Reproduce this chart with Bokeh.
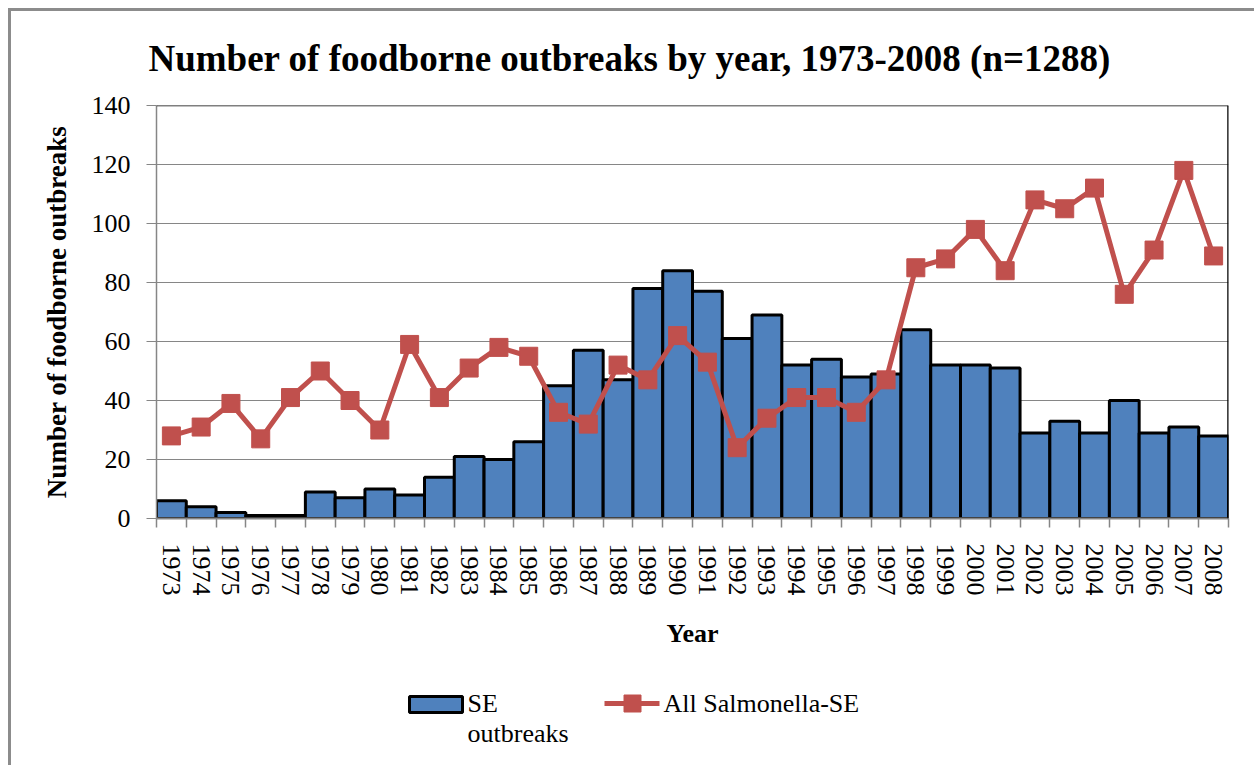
from bokeh.plotting import figure
from bokeh.layouts import column
from bokeh.models import Range1d, FixedTicker, Span, ColumnDataSource, Title
from bokeh.core.properties import value
from bokeh.embed import file_html
from bokeh.resources import INLINE

# ---- data ----
years = [1973, 1974, 1975, 1976, 1977, 1978, 1979, 1980, 1981, 1982, 1983, 1984,
         1985, 1986, 1987, 1988, 1989, 1990, 1991, 1992, 1993, 1994, 1995, 1996,
         1997, 1998, 1999, 2000, 2001, 2002, 2003, 2004, 2005, 2006, 2007, 2008]
se_outbreaks = [6, 4, 2, 1, 1, 9, 7, 10, 8, 14, 21, 20,
                26, 45, 57, 47, 78, 84, 77, 61, 69, 52, 54, 48,
                49, 64, 52, 52, 51, 29, 33, 29, 40, 29, 31, 28]
all_salmonella_minus_se = [28, 31, 39, 27, 41, 50, 40, 30, 59, 41, 51, 58,
                           55, 36, 32, 52, 47, 62, 53, 24, 34, 41, 41, 36,
                           47, 85, 88, 98, 84, 108, 105, 112, 76, 91, 118, 89]
y_ticks = [0, 20, 40, 60, 80, 100, 120, 140]
title_text = "Number of foodborne outbreaks by year, 1973-2008 (n=1288)"
legend_labels = ["SE", "outbreaks", "All Salmonella-SE"]

FONT = "Liberation Serif"
BLUE = "#4F81BD"
RED = "#C0504D"
GREY = "#868686"
W = 1243

# ---------------- main chart ----------------
src = ColumnDataSource(dict(year=years, se=se_outbreaks, sal=all_salmonella_minus_se))

p = figure(width=W, height=669, output_backend="svg", toolbar_location=None,
           x_range=Range1d(years[0] - 0.5, years[-1] + 0.5),
           y_range=Range1d(y_ticks[0], y_ticks[-1]),
           min_border_left=145, min_border_right=26, min_border_top=94, min_border_bottom=162)
p.outline_line_color = None
p.title = Title(text=title_text, align="left", offset=-8, standoff=50, vertical_align="top",
                text_font=FONT, text_font_style="bold", text_font_size="37px",
                text_color="black")

bars = p.vbar(x="year", top="se", bottom=0, width=1.0, source=src,
              fill_color=BLUE, line_color="black", line_width=3)
line_r = p.line(x="year", y="sal", source=src, line_color=RED, line_width=5)
pts = p.scatter(x="year", y="sal", source=src, marker="square", size=18,
                fill_color=RED, line_color=RED)

p.add_layout(Span(location=y_ticks[-1], dimension="width", line_color="black", line_width=1.5))
p.add_layout(Span(location=years[-1] + 0.5, dimension="height", line_color="black", line_width=2.5))

p.xgrid.visible = False
p.ygrid.ticker = FixedTicker(ticks=y_ticks)
p.ygrid.grid_line_color = GREY
p.ygrid.grid_line_width = 1

xa = p.xaxis[0]
xa.ticker = FixedTicker(ticks=years, minor_ticks=[y - 0.5 for y in years] + [years[-1] + 0.5])
xa.major_label_overrides = {y: str(y) for y in years}
xa.major_label_orientation = "vertical"
xa.major_tick_out = 0
xa.major_tick_in = 0
xa.minor_tick_out = 9
xa.minor_tick_in = 0
xa.minor_tick_line_color = GREY
xa.minor_tick_line_width = 1.5
xa.axis_line_color = GREY
xa.axis_line_width = 2
xa.major_label_standoff = 16
xa.major_label_text_font = FONT
xa.major_label_text_font_size = "26px"
xa.major_label_text_color = "black"
xa.axis_label = "Year"
xa.axis_label_text_font = FONT
xa.axis_label_text_font_style = "bold"
xa.axis_label_text_font_size = "26px"
xa.axis_label_text_color = "black"
xa.axis_label_standoff = 20

ya = p.yaxis[0]
ya.ticker = FixedTicker(ticks=y_ticks)
ya.major_tick_out = 10
ya.major_tick_in = 0
ya.minor_tick_out = 0
ya.minor_tick_in = 0
ya.major_tick_line_color = GREY
ya.axis_line_color = GREY
ya.axis_line_width = 1.5
ya.major_label_standoff = 16
ya.major_label_text_font = FONT
ya.major_label_text_font_size = "26px"
ya.major_label_text_color = "black"
ya.axis_label = "Number of foodborne outbreaks"
ya.axis_label_text_font = FONT
ya.axis_label_text_font_style = "bold"
ya.axis_label_text_font_size = "27px"
ya.axis_label_text_color = "black"
ya.axis_label_standoff = 17

# ---------------- legend strip (frame aligned with the chart frame: x in page pixels) ----------------
LEG_H = 85
leg = figure(width=W, height=LEG_H, output_backend="svg", toolbar_location=None,
             x_range=Range1d(156, 1228), y_range=Range1d(LEG_H, 0),
             x_axis_type=None, y_axis_type=None, min_border=0)
leg.outline_line_color = None
leg.grid.visible = False
leg.quad(left=[409], right=[462], top=[16], bottom=[32], fill_color=BLUE,
         line_color="black", line_width=3)
leg.line(x=[604, 659], y=[23, 23], line_color=RED, line_width=5)
leg.scatter(x=[632], y=[23], marker="square", size=17, fill_color=RED, line_color=RED)
leg.text(x=[467, 467, 663], y=[23, 53, 23], text=legend_labels, text_align="left",
         text_baseline="middle", text_font=value(FONT), text_font_size="26px", text_color="black")

layout = column(p, leg, spacing=0, margin=(8, 0, 0, 8),
                styles={"border-left": "3px solid #8c8c8c", "border-top": "3px solid #8c8c8c"})

open("out.html", "w").write(file_html(layout, INLINE))
